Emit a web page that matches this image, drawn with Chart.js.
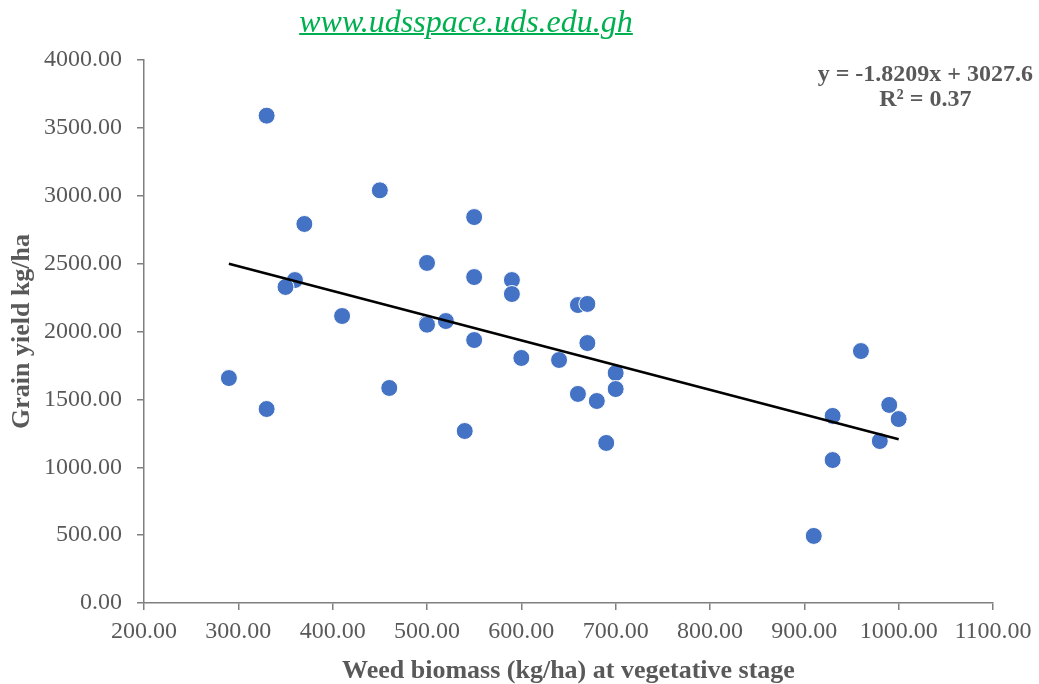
<!DOCTYPE html>
<html lang="en">
<head>
  <meta charset="UTF-8">
  <title>Grain yield vs weed biomass</title>
  <script src="https://cdn.jsdelivr.net/npm/chart.js"></script>
  <style>
    body { margin: 0; background: #fff; }
    #wrap { position: relative; width: 1039px; height: 684px; }
    #site {
      position: absolute; left: 0; width: 932px; top: 3px; text-align: center;
      font: italic 32px "Liberation Serif", serif; line-height: 36px; color: #00b050;
      text-decoration: underline; text-decoration-thickness: 2px;
    }
    #eq {
      position: absolute; right: 6px; top: 61px; text-align: center;
      font: bold 24px "Liberation Serif", serif; color: #595959; line-height: 25px;
    }
  </style>
</head>
<body>
  <div id="wrap">
    <canvas id="scatterChart" width="1039" height="684"></canvas>
    <div id="site">www.udsspace.uds.edu.gh</div>
    <div id="eq">y = -1.8209x + 3027.6<br>R² = 0.37</div>
  </div>

  <script>
    // weed biomass (kg/ha) and grain yield (kg/ha)
    const weedBiomass = [330, 450, 550, 370, 500, 550, 590, 590, 360, 350, 660, 670, 410, 500, 500, 520,
                         550, 600, 640, 700, 700, 670, 960, 290, 460, 660, 680, 330, 990, 1000, 930, 540,
                         690, 980, 930, 910];
    const grainYield = [3590, 3040, 2843, 2792, 2505, 2401, 2379, 2276, 2379, 2328, 2195, 2203, 2114, 2063, 2050, 2077,
                        1937, 1805, 1790, 1694, 1576, 1915, 1856, 1657, 1584, 1540, 1488, 1429, 1459, 1355, 1378, 1267,
                        1179, 1193, 1053, 494];

    // trendline as printed on the chart
    const slope = -1.8209;
    const intercept = 3027.6;

    const points = weedBiomass.map((x, i) => ({ x: x, y: grainYield[i] }));
    const xMin = Math.min(...weedBiomass);
    const xMax = Math.max(...weedBiomass);
    const trend = [xMin, xMax].map(x => ({ x: x, y: slope * x + intercept }));

    const gray = '#595959';
    const tickFont = { family: 'Liberation Serif', size: 24 };
    const titleFont = { family: 'Liberation Serif', size: 26, weight: 'bold', lineHeight: 1 };

    new Chart(document.getElementById('scatterChart').getContext('2d'), {
      type: 'scatter',
      data: {
        datasets: [{
          data: points,
          backgroundColor: '#4472c4',
          borderColor: '#ffffff',
          borderWidth: 1,
          pointRadius: 8.5,
          order: 2
        }, {
          type: 'line',
          data: trend,
          borderColor: '#000000',
          borderWidth: 2.5,
          pointRadius: 0,
          fill: false,
          order: 1
        }]
      },
      options: {
        responsive: false,
        animation: false,
        layout: { padding: { top: 60, right: 46, bottom: 0, left: 0 } },
        plugins: { legend: { display: false }, tooltip: { enabled: false } },
        scales: {
          x: {
            min: 200, max: 1100,
            ticks: { stepSize: 100, color: gray, font: tickFont, padding: 7, callback: v => v.toFixed(2), maxRotation: 0 },
            grid: { drawOnChartArea: false, tickLength: 7, color: '#7f7f7f', lineWidth: 1.5 },
            border: { color: '#7f7f7f', width: 1.5 },
            title: { display: true, text: 'Weed biomass (kg/ha) at vegetative stage', color: gray,
                     font: titleFont, padding: { top: 0, bottom: 0 } },
            afterFit: s => { s.height = 81; }
          },
          y: {
            min: 0, max: 4000,
            ticks: { stepSize: 500, color: gray, font: tickFont, padding: 15, callback: v => v.toFixed(2) },
            grid: { drawOnChartArea: false, tickLength: 7, color: '#7f7f7f', lineWidth: 1.5 },
            border: { color: '#7f7f7f', width: 1.5 },
            title: { display: true, text: 'Grain yield kg/ha', color: gray,
                     font: titleFont, padding: { top: 9, bottom: 0 } },
            afterFit: s => { s.width = 144; }
          }
        }
      }
    });
  </script>
</body>
</html>
